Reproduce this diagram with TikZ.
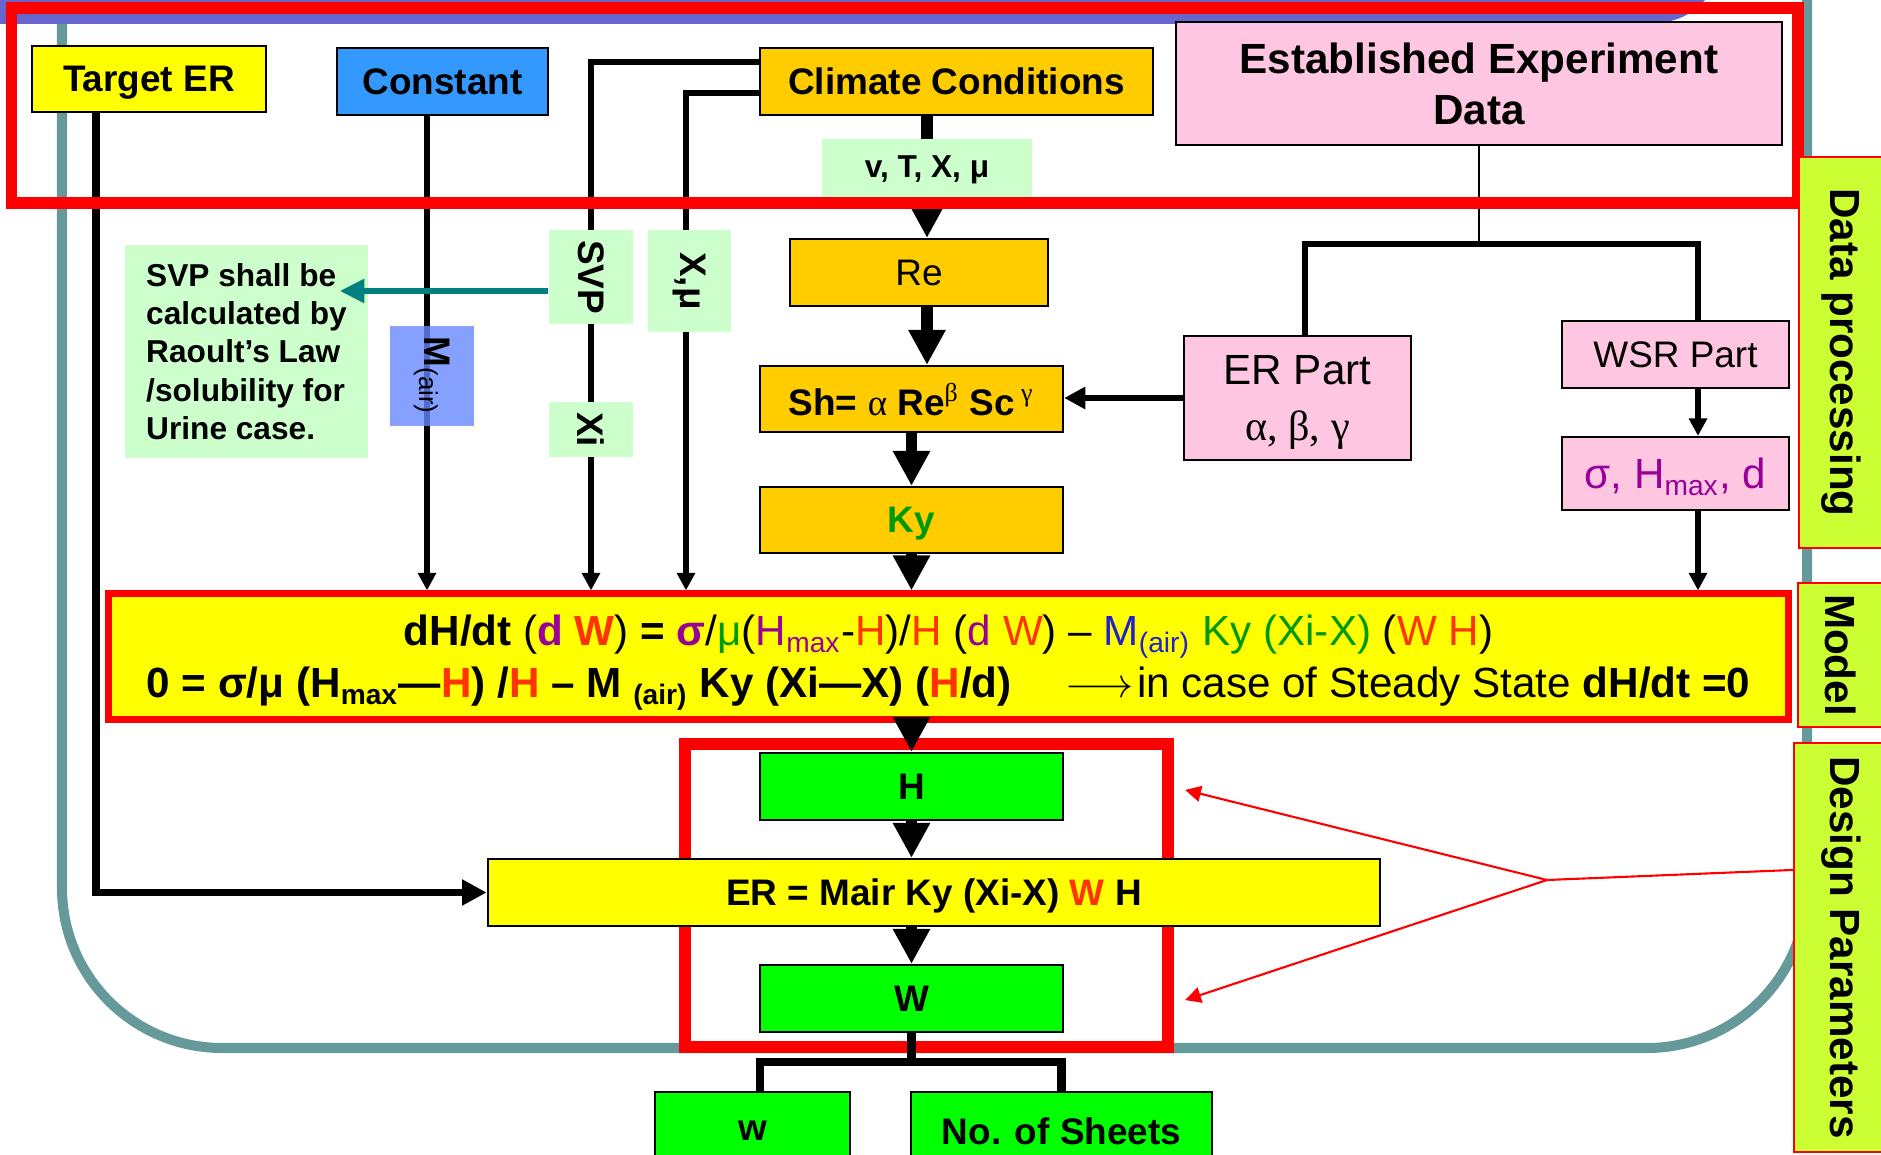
\documentclass[tikz,border=0pt]{standalone}
\usepackage{fontspec}
\setmainfont{Liberation Sans}
\newfontfamily\greekfont{Liberation Serif}
\usetikzlibrary{arrows.meta}
\definecolor{cyel}{HTML}{FFFF00}
\definecolor{cblue}{HTML}{3399FF}
\definecolor{cgold}{HTML}{FFCC00}
\definecolor{cpink}{HTML}{FFC6E2}
\definecolor{clgrn}{HTML}{CCFFCC}
\definecolor{cgreen}{HTML}{00FF00}
\definecolor{cside}{HTML}{CCFF33}
\definecolor{cteal}{HTML}{669999}
\definecolor{cband}{HTML}{6666CC}
\definecolor{cmair}{HTML}{6688FF}
\definecolor{carrow}{HTML}{008080}
\definecolor{cpur}{HTML}{990099}
\definecolor{cora}{HTML}{FF3300}
\definecolor{cgrn}{HTML}{009900}
\definecolor{cblu}{HTML}{2222CC}

\begin{document}
\begin{tikzpicture}[x=0.01cm,y=-0.01cm,
  boxed/.style={draw=black,line width=0.6pt,inner sep=0pt,align=center,text depth=0pt,
    font=\fontsize{10.5}{12.6}\selectfont\bfseries},
  tagbox/.style={fill=clgrn,inner sep=0pt,align=center,
    font=\fontsize{10.5}{12.6}\selectfont\bfseries},
  sidebox/.style={draw=red,line width=0.6pt,fill=cside,rotate=-90,inner sep=0pt,
    font=\fontsize{12}{14}\selectfont\bfseries},
  redframe/.style={draw=red,line width=3.4pt,inner sep=0pt},
  conn/.style={line width=1.5pt,-{Triangle[length=5pt,width=5pt]}},
  fat/.style={line width=3.4pt,-{Triangle[length=10pt,width=10pt]}},
  pointer/.style={red,line width=0.6pt,-{Triangle[length=4.5pt,width=4.5pt]}},
]
\useasboundingbox (0,0) rectangle (1881,1155);
\clip (0,0) rectangle (1881,1155);

\draw[cteal,line width=2.85pt,rounded corners=1.6cm] (62,0) -- (62,1048) -- (1807,1048) -- (1807,0);
\fill[cband] (0,0) -- (1705,0) .. controls (1690,16) and (1675,24) .. (1640,24) -- (0,24) -- cycle;

\draw (149,79) node(TER)[boxed,fill=cyel,minimum width=2.34cm,minimum height=0.66cm]{Target ER};
\draw (442.5,81.5) node(CONST)[boxed,fill=cblue,minimum width=2.11cm,minimum height=0.67cm]{Constant};
\draw (956.5,81.5) node(CLIM)[boxed,fill=cgold,minimum width=3.93cm,minimum height=0.67cm]{Climate Conditions};
\draw (1479,83.5) node(EED)[boxed,fill=cpink,minimum width=6.06cm,minimum height=1.23cm,
  font=\fontsize{12}{14.5}\selectfont\bfseries]{Established Experiment\\Data};
\draw (919,272.5) node(RE)[boxed,fill=cgold,minimum width=2.58cm,minimum height=0.67cm,
  font=\fontsize{10.5}{12.6}\selectfont]{Re};
\draw (911.5,399) node(SH)[boxed,fill=cgold,minimum width=3.03cm,minimum height=0.66cm]
  {Sh= {\greekfont\mdseries α} Re\textsuperscript{\greekfont\mdseries β} Sc\,\textsuperscript{\greekfont\mdseries γ}};
\draw (911.5,520) node(KY)[boxed,fill=cgold,minimum width=3.03cm,minimum height=0.66cm,text=cgrn]{Ky};
\draw (1297.5,398) node(ERP)[boxed,fill=cpink,minimum width=2.27cm,minimum height=1.24cm,
  font=\fontsize{12}{16}\selectfont]{ER Part\\{\greekfont α, β, γ}};
\draw (1675.5,354.5) node(WSR)[boxed,fill=cpink,minimum width=2.27cm,minimum height=0.67cm,
  font=\fontsize{10.5}{12.6}\selectfont]{WSR Part};
\draw (1675.5,473.5) node(SIG)[boxed,fill=cpink,minimum width=2.27cm,minimum height=0.73cm,text=cpur,
  font=\fontsize{12}{14}\selectfont]{σ, H\textsubscript{max}, d};
\draw (246.5,351.5) node(SVPTXT)[fill=clgrn,inner sep=0pt,minimum width=2.43cm,minimum height=2.13cm,align=left,
  font=\fontsize{9}{10.9}\selectfont\bfseries]{SVP shall be\\calculated by\\Raoult’s Law\\/solubility for\\Urine case.};

\draw (948.5,656.5) node(MODEL)[draw=red,line width=2pt,fill=cyel,inner sep=0pt,minimum width=16.79cm,
  minimum height=1.25cm,align=center,text depth=0pt,font=\fontsize{12}{14.8}\selectfont]
  {\textbf{dH/dt} (\textbf{\color{cpur}d \color{cora}W}) \textbf{= {\color{cpur}σ}}/{\color{cgrn}μ}({\color{cpur}H\textsubscript{max}}-{\color{cora}H})/{\color{cora}H}
   ({\color{cpur}d} {\color{cora}W}) – {\color{cblu}M\textsubscript{(air)}} {\color{cgrn}Ky (Xi-X)} ({\color{cora}W H})\\
   \textbf{0 = σ/μ (H\textsubscript{max}—{\color{cora}H}) /{\color{cora}H} – M \textsubscript{(air)} Ky (Xi—X) ({\color{cora}H}/d)}
   \hspace{1.0em}$\longrightarrow$\hspace{0.08em}in case of Steady State \textbf{dH/dt =0}};

\draw (926.5,895.5) node(DESFR)[redframe,minimum width=4.83cm,minimum height=3.03cm]{};
\draw (911.5,786.5) node(HBOX)[boxed,fill=cgreen,minimum width=3.03cm,minimum height=0.67cm]{H};
\draw (934,892.5) node(ERBOX)[boxed,fill=cyel,minimum width=8.92cm,minimum height=0.67cm]
  {ER = Mair Ky (Xi-X) {\color{cora}W} H};
\draw (911.5,998.5) node(WBOX)[boxed,fill=cgreen,minimum width=3.03cm,minimum height=0.67cm]{W};
\draw (752.5,1131) node(SW)[boxed,fill=cgreen,minimum width=1.95cm,minimum height=0.78cm]{w};
\draw (1061.5,1131) node(SHEETS)[boxed,fill=cgreen,minimum width=3.01cm,minimum height=0.78cm]{No. of Sheets};

\coordinate (TERX) at (96,0);
\coordinate (CONSTX) at (427,0);
\coordinate (SVPX) at (591,62);
\coordinate (XMUX) at (686,93);
\coordinate (AXIS) at (927,0);
\coordinate (ERPX) at (1305,0);
\coordinate (WSRX) at (1698,0);
\coordinate (FORK) at (1479,244);
\coordinate (SPLIT) at (911.5,1062);
\coordinate (TEALY) at (0,291);
\coordinate (PT) at (1547,880);

\draw[line width=2pt,-{Triangle[length=7pt,width=7pt]}] (TERX |- TER.south) |- (ERBOX.west);
\draw[conn] (CONSTX |- CONST.south) -- (CONSTX |- MODEL.north);
\draw[conn] (SVPX -| CLIM.west) -- (SVPX) -- (SVPX |- MODEL.north);
\draw[conn] (XMUX -| CLIM.west) -- (XMUX) -- (XMUX |- MODEL.north);
\draw[fat] (AXIS |- CLIM.south) -- (AXIS |- RE.north);
\draw[fat] (AXIS |- RE.south) -- (AXIS |- SH.north);
\draw[fat] (SH.south) -- (KY.north);
\draw[fat] (KY.south) -- (KY.south |- MODEL.north);
\draw[fat] (HBOX.north |- MODEL.south) -- (HBOX.north);
\draw[fat] (HBOX.south) -- (HBOX.south |- ERBOX.north);
\draw[fat] (WBOX.north |- ERBOX.south) -- (WBOX.north);
\draw[line width=2.3pt] (WBOX.south) -- (SPLIT);
\draw[line width=2.3pt] ([xshift=0.075cm]SW.north) |- (SPLIT) -| (SHEETS.north);
\draw[line width=1.8pt,-{Triangle[length=6pt,width=6pt]}] (ERP.west) -- (ERP.west -| SH.east);
\draw[line width=0.45pt] (EED.south) -- (FORK);
\draw[line width=1.5pt] (ERPX |- ERP.north) |- (FORK) -| (WSRX |- WSR.north);
\draw[conn] (WSRX |- WSR.south) -- (WSRX |- SIG.north);
\draw[conn] (WSRX |- SIG.south) -- (WSRX |- MODEL.north);

\draw (927,170) node(VTX)[tagbox,minimum width=2.10cm,minimum height=0.62cm,
  font=\fontsize{9}{11}\selectfont\bfseries]{v, T, X, μ};
\draw (591,277) node(SVPL)[tagbox,rotate=-90,minimum width=0.94cm,minimum height=0.84cm]{SVP};
\draw (591,429.5) node(XIL)[tagbox,rotate=-90,minimum width=0.55cm,minimum height=0.84cm]{Xi};
\draw (689.5,281) node(XMUL)[tagbox,rotate=-90,minimum width=1.02cm,minimum height=0.83cm]{X,μ};
\draw (432,376) node(MAIR)[fill=cmair,fill opacity=0.8,text opacity=1,rotate=-90,inner sep=0pt,
  minimum width=1.0cm,minimum height=0.84cm,font=\fontsize{10.5}{12.6}\selectfont]{\textbf{M}\textsubscript{(air)}};

\draw[carrow,line width=1.7pt,-{Triangle[length=7pt,width=6.5pt]},shorten >=-0.29cm]
  (SVPL.south |- TEALY) -- (SVPTXT.east |- TEALY);

\draw (904.5,105.5) node(DPFR)[redframe,minimum width=17.85cm,minimum height=1.95cm]{};

\draw (1841,352.5) node(DPL)[sidebox,minimum width=3.91cm,minimum height=0.84cm]{Data processing};
\draw (1841,655) node(MDL)[sidebox,minimum width=1.44cm,minimum height=0.86cm]{Model};
\draw (1841,947.5) node(DSL)[sidebox,minimum width=4.09cm,minimum height=0.94cm]{Design Parameters};

\draw[red,line width=0.6pt] ([yshift=0.775cm]DSL.south) -- (PT);
\draw[pointer] (PT) -- ([xshift=0.11cm,yshift=1.055cm]DESFR.east);
\draw[pointer] (PT) -- ([xshift=0.11cm,yshift=-1.045cm]DESFR.east);

\end{tikzpicture}
\end{document}
